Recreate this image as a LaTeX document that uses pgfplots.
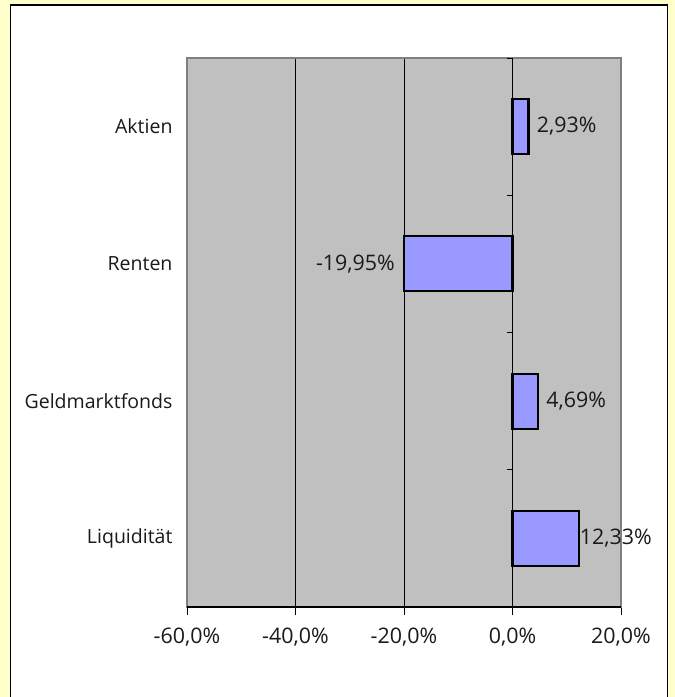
\documentclass[border=0pt]{standalone}
\usepackage{fontspec}
\setmainfont{Open Sans}
\usepackage{pgfplots}
\pgfplotsset{compat=1.18}
\definecolor{bgyellow}{HTML}{FFFFCC}
\definecolor{plotgray}{HTML}{C0C0C0}
\definecolor{bordergray}{HTML}{808080}
\definecolor{barblue}{HTML}{9999FF}
\definecolor{textgray}{HTML}{1A1A1A}

\begin{document}
\begin{tikzpicture}[x=1bp,y=1bp]
\useasboundingbox (0,0) rectangle (675,697);
\fill[bgyellow] (0,0) rectangle (675,697);
\draw[black, line width=1.5bp, fill=white] (10.5,-5) rectangle (667.5,692);
\begin{axis}[
  at={(187bp,90bp)}, anchor=south west,
  scale only axis, width=434bp, height=549bp,
  xmin=-60, xmax=20, ymin=0.5, ymax=4.5,
  axis background/.style={fill=plotgray},
  axis line style={draw=bordergray, line width=2bp},
  xtick={-60,-40,-20,0,20},
  xticklabels={{-60,0\%},{-40,0\%},{-20,0\%},{0,0\%},{20,0\%}},
  xtick pos=bottom, xtick align=outside,
  x tick style={black, line width=0.8bp},
  major tick length=8bp,
  xmajorgrids, grid style={black, line width=0.8bp},
  ytick={1,2,3,4},
  yticklabels={Liquidität,Geldmarktfonds,Renten,Aktien},
  y tick style={draw=none},
  y tick label style={font=\fontsize{19.6}{24}\selectfont, text=textgray, anchor=east, xshift=-3bp},
  x tick label style={font=\fontsize{21.5}{25}\selectfont, text=textgray, yshift=-9bp},
  xbar, bar shift=0pt, bar width=55bp,
  point meta=explicit symbolic,
  nodes near coords,
  every node near coord/.append style={font=\fontsize{21.5}{25}\selectfont, text=textgray},
  clip=false,
]
% positive values, label right of bar
\addplot[fill=barblue, draw=black, line width=2.2bp,
  every node near coord/.append style={anchor=west, xshift=4bp}]
  coordinates {(2.93,4) [2,93\%] (4.69,2) [4,69\%]};
\addplot[fill=barblue, draw=black, line width=2.2bp,
  every node near coord/.append style={anchor=west, xshift=-4bp}]
  coordinates {(12.33,1) [12,33\%]};
% negative value, label left of bar
\addplot[fill=barblue, draw=black, line width=2.2bp,
  every node near coord/.append style={anchor=east, xshift=-5bp}]
  coordinates {(-19.95,3) [-19,95\%]};
% category separators on the zero line
\pgfplotsinvokeforeach{0.5,1.5,2.5,3.5,4.5}{
  \draw[black, line width=0.8bp] (axis cs:0,#1) -- ++(-6bp,0bp);
}
\draw[black, line width=1.5bp] (axis cs:-60,0.5) -- (axis cs:20,0.5);
\end{axis}
\end{tikzpicture}
\end{document}
